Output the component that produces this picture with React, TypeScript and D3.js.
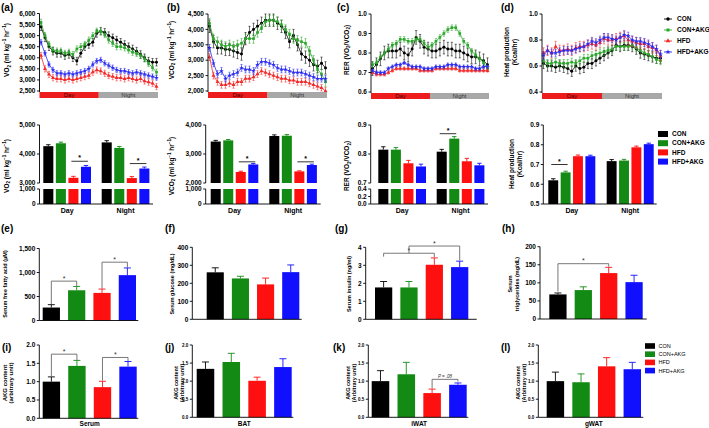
import React from "react";
import * as d3 from "d3";

const FONT = "'Liberation Sans', Arial, Helvetica, sans-serif";
const GROUP_NAMES = ["CON", "CON+AKG", "HFD", "HFD+AKG"];
const LINE_COLORS = ["#000000", "#2ba82b", "#f42a2a", "#2b2bf2"];
const BAR_COLORS = ["#000000", "#138a13", "#ff1010", "#1010ff"];
const PERIODS = ["Day", "Night"];

// ---------------------------------------------------------------------------
// (a)-(d) 24 h time courses
// ---------------------------------------------------------------------------
const VO2_CON = [5400, 4900, 4500, 4300, 4200, 4200, 4100, 4150, 4000, 3850, 4200, 4500, 4600, 4700, 5100, 5200, 5150, 5000, 4900, 4800, 4700, 4600, 4500, 4400, 4300, 4150, 4000, 3850, 3800, 3800];
const VO2_CONAKG = [5600, 5000, 4600, 4350, 4300, 4300, 4200, 4250, 4150, 4400, 4500, 4600, 4800, 5000, 5200, 5200, 5050, 4800, 4650, 4500, 4500, 4450, 4350, 4250, 4200, 4100, 3950, 3750, 3550, 3350];
const VO2_HFD = [4100, 3500, 3250, 3100, 3050, 3050, 3000, 3050, 3000, 3050, 3100, 3150, 3200, 3350, 3450, 3400, 3300, 3200, 3150, 3100, 3100, 3050, 3100, 3050, 3000, 3050, 2950, 2900, 2850, 2700];
const VO2_HFDAKG = [4700, 4200, 3700, 3450, 3300, 3300, 3250, 3300, 3250, 3300, 3350, 3400, 3500, 3700, 3850, 3900, 3750, 3650, 3550, 3450, 3400, 3400, 3350, 3300, 3350, 3300, 3250, 3200, 3150, 3100];
const VO2_SEM = [170, 140, 140, 120];

const VCO2_CON = [4100, 3600, 3400, 3400, 3350, 3350, 3300, 3250, 3200, 3700, 3900, 4000, 4100, 4200, 4300, 4300, 4300, 4200, 4100, 3900, 3600, 3800, 3500, 3200, 3100, 3000, 2850, 2800, 2900, 2750];
const VCO2_CONAKG = [4200, 3700, 3600, 3500, 3450, 3500, 3450, 3500, 3550, 3700, 3700, 3700, 3900, 4050, 4250, 4300, 4300, 4250, 4150, 4000, 3850, 3700, 3650, 3600, 3550, 3300, 3000, 2700, 2550, 2300];
const VCO2_HFD = [3100, 2500, 2300, 2200, 2200, 2250, 2200, 2300, 2300, 2400, 2400, 2450, 2550, 2650, 2600, 2550, 2500, 2450, 2400, 2400, 2350, 2350, 2300, 2300, 2300, 2250, 2200, 2150, 2100, 2000];
const VCO2_HFDAKG = [3400, 2900, 2550, 2650, 2400, 2500, 2550, 2600, 2750, 2700, 2700, 2650, 2850, 2950, 2950, 2900, 2850, 2750, 2700, 2700, 2650, 2600, 2600, 2600, 2550, 2500, 2450, 2400, 2400, 2400];
const VCO2_SEM = [200, 150, 110, 110];

const RER_CON = [0.72, 0.74, 0.77, 0.8, 0.81, 0.81, 0.81, 0.82, 0.8, 0.79, 0.82, 0.88, 0.86, 0.83, 0.82, 0.81, 0.81, 0.82, 0.83, 0.82, 0.82, 0.81, 0.81, 0.8, 0.79, 0.78, 0.78, 0.77, 0.76, 0.74];
const RER_CONAKG = [0.74, 0.75, 0.78, 0.8, 0.82, 0.84, 0.85, 0.87, 0.87, 0.86, 0.86, 0.87, 0.87, 0.85, 0.83, 0.84, 0.86, 0.88, 0.9, 0.92, 0.93, 0.93, 0.9, 0.86, 0.84, 0.81, 0.79, 0.77, 0.75, 0.72];
const RER_HFD = [0.7, 0.69, 0.69, 0.69, 0.7, 0.71, 0.72, 0.72, 0.72, 0.72, 0.72, 0.72, 0.71, 0.71, 0.71, 0.71, 0.72, 0.72, 0.72, 0.72, 0.72, 0.72, 0.71, 0.71, 0.71, 0.71, 0.71, 0.71, 0.71, 0.71];
const RER_HFDAKG = [0.71, 0.7, 0.7, 0.7, 0.72, 0.73, 0.74, 0.74, 0.75, 0.74, 0.73, 0.73, 0.73, 0.72, 0.72, 0.72, 0.73, 0.73, 0.73, 0.74, 0.74, 0.74, 0.73, 0.73, 0.73, 0.73, 0.72, 0.72, 0.73, 0.73];
const RER_SEM = [0.035, 0.014, 0.008, 0.008];

const HEAT_CON = [0.62, 0.6, 0.6, 0.59, 0.6, 0.59, 0.58, 0.56, 0.6, 0.58, 0.59, 0.62, 0.62, 0.64, 0.66, 0.68, 0.7, 0.72, 0.76, 0.75, 0.76, 0.76, 0.75, 0.73, 0.7, 0.69, 0.68, 0.67, 0.66, 0.66];
const HEAT_CONAKG = [0.64, 0.62, 0.62, 0.63, 0.62, 0.62, 0.62, 0.63, 0.62, 0.64, 0.66, 0.66, 0.68, 0.69, 0.7, 0.71, 0.72, 0.73, 0.75, 0.75, 0.75, 0.75, 0.76, 0.74, 0.72, 0.7, 0.69, 0.67, 0.65, 0.64];
const HEAT_HFD = [0.7, 0.72, 0.7, 0.75, 0.72, 0.72, 0.73, 0.72, 0.74, 0.75, 0.75, 0.76, 0.77, 0.76, 0.78, 0.81, 0.8, 0.8, 0.81, 0.82, 0.83, 0.8, 0.79, 0.78, 0.77, 0.77, 0.75, 0.74, 0.72, 0.68];
const HEAT_HFDAKG = [0.68, 0.72, 0.7, 0.7, 0.71, 0.72, 0.72, 0.72, 0.73, 0.74, 0.75, 0.77, 0.79, 0.78, 0.8, 0.82, 0.82, 0.81, 0.8, 0.82, 0.84, 0.83, 0.8, 0.79, 0.79, 0.78, 0.77, 0.75, 0.73, 0.69];
const HEAT_SEM = [0.04, 0.03, 0.04, 0.03];

// ---------------------------------------------------------------------------
// Day / Night averages (second row)
// ---------------------------------------------------------------------------
const VO2_DAY = [4270, 4370, 3180, 3560];
const VO2_NIGHT = [4400, 4210, 3170, 3500];
const VO2_DAY_SEM = [50, 40, 50, 45];
const VO2_NIGHT_SEM = [60, 50, 50, 50];

const VCO2_DAY = [3430, 3470, 2380, 2640];
const VCO2_NIGHT = [3620, 3630, 2400, 2620];
const VCO2_DAY_SEM = [40, 30, 25, 30];
const VCO2_NIGHT_SEM = [40, 40, 20, 30];

const RER_DAY = [0.815, 0.815, 0.768, 0.757];
const RER_NIGHT = [0.808, 0.853, 0.775, 0.761];
const RER_DAY_SEM = [0.01, 0.007, 0.01, 0.008];
const RER_NIGHT_SEM = [0.008, 0.007, 0.01, 0.007];

const HEAT_DAY = [0.62, 0.66, 0.742, 0.742];
const HEAT_NIGHT = [0.717, 0.72, 0.787, 0.803];
const HEAT_DAY_SEM = [0.008, 0.006, 0.006, 0.005];
const HEAT_NIGHT_SEM = [0.008, 0.006, 0.006, 0.005];

// ---------------------------------------------------------------------------
// Serum (third row) and AKG content (fourth row)
// ---------------------------------------------------------------------------
const FFA = [270, 630, 575, 945];
const FFA_SEM = [60, 80, 80, 150];
const GLUCOSE = [261, 227, 194, 262];
const GLUCOSE_SEM = [25, 12, 35, 40];
const INSULIN = [1.77, 1.77, 3.03, 2.9];
const INSULIN_SEM = [0.33, 0.33, 0.38, 0.33];
const TG = [68, 80, 127, 102];
const TG_SEM = [4, 9, 16, 19];

const AKG_SERUM = [1.0, 1.43, 0.85, 1.41];
const AKG_SERUM_SEM = [0.13, 0.15, 0.16, 0.14];
const AKG_BAT = [1.34, 1.53, 1.01, 1.39];
const AKG_BAT_SEM = [0.19, 0.24, 0.1, 0.23];
const AKG_IWAT = [1.0, 1.19, 0.67, 0.9];
const AKG_IWAT_SEM = [0.29, 0.33, 0.11, 0.05];
const AKG_GWAT = [1.0, 0.97, 1.41, 1.33];
const AKG_GWAT_SEM = [0.25, 0.23, 0.24, 0.19];

const SYMBOL_TYPES = [d3.symbolCircle, d3.symbolSquare, d3.symbolTriangle, d3.symbolStar];
const fmtK = d3.format(",");
const fmt1 = d3.format(".1f");
const fmtInt = d3.format("d");

// ---------------------------------------------------------------------------
// helpers
// ---------------------------------------------------------------------------

function YAxis({ x, y, ticks, fmt, size = 6.5, weight = "bold", y0, y1 }: any) {
  return (
    <g>
      <line x1={x} x2={x} y1={y0} y2={y1} stroke="#000" strokeWidth={0.9} />
      {ticks.map((t: number) => (
        <g key={t}>
          <line x1={x - 2.5} x2={x} y1={y(t)} y2={y(t)} stroke="#000" strokeWidth={0.9} />
          <text x={x - 4} y={y(t)} dy="0.35em" textAnchor="end" fontSize={size} fontWeight={weight}>
            {fmt(t)}
          </text>
        </g>
      ))}
    </g>
  );
}

function VText({ x, y, size = 6.5, children }: any) {
  return (
    <text transform={`translate(${x},${y}) rotate(-90)`} textAnchor="middle" dy="0.35em" fontSize={size} fontWeight="bold">
      {children}
    </text>
  );
}

// pieces: [text, shift] where shift is "sub", "sup" or none; the next piece undoes it
function Scripted({ x, y, size, pieces }: any) {
  let prev = 0;
  return (
    <VText x={x} y={y} size={size}>
      {pieces.map(([t, kind]: [string, string?], i: number) => {
        const off = kind === "sub" ? size * 0.25 : kind === "sup" ? -size * 0.4 : 0;
        const dy = off - prev;
        prev = off;
        return (
          <tspan key={i} dy={dy} fontSize={kind ? size * 0.7 : size}>
            {t}
          </tspan>
        );
      })}
    </VText>
  );
}

const VO2_PIECES = [["VO"], ["2", "sub"], [" (ml kg"], ["−1", "sup"], [" hr"], ["−1", "sup"], [")"]];
const VCO2_PIECES = [["VCO"], ["2", "sub"], [" (ml kg"], ["−1", "sup"], [" hr"], ["−1", "sup"], [")"]];
const RER_PIECES = [["RER (VO"], ["2", "sub"], ["/VCO"], ["2", "sub"], [")"]];

function PanelTag({ x, y, t }: any) {
  return (
    <text x={x} y={y} fontSize={10} fontWeight="bold">
      {t}
    </text>
  );
}

// ---------------------------------------------------------------------------
// time-course panel
// ---------------------------------------------------------------------------

function TimePanel({ left, right, top, bottom, domain, ticks, fmt, series, sems }: any) {
  const n = series[0].length;
  const x = d3.scaleLinear().domain([0, n - 1]).range([left + 1.5, right - 1.5]);
  const y = d3.scaleLinear().domain(domain).range([bottom, top]).clamp(true);
  const line = d3.line<number>().x((_, i) => x(i)).y((d) => y(d));
  const mid = (left + right) / 2;
  return (
    <g>
      {series.map((s: number[], k: number) => {
        const e = sems[k];
        const mark = d3.symbol().type(SYMBOL_TYPES[k]).size(7)()!;
        return (
          <g key={k} stroke={LINE_COLORS[k]} fill={LINE_COLORS[k]}>
            <path d={line(s)!} fill="none" strokeWidth={0.8} />
            {s.map((v, i) => (
              <g key={i} strokeWidth={0.55}>
                <line x1={x(i)} x2={x(i)} y1={y(v - e)} y2={y(v + e)} />
                <line x1={x(i) - 1.1} x2={x(i) + 1.1} y1={y(v + e)} y2={y(v + e)} />
                <line x1={x(i) - 1.1} x2={x(i) + 1.1} y1={y(v - e)} y2={y(v - e)} />
              </g>
            ))}
            {s.map((v, i) => (
              <path key={"m" + i} d={mark} transform={`translate(${x(i)},${y(v)})`} stroke="none" />
            ))}
          </g>
        );
      })}
      <YAxis x={left} y={y} ticks={ticks} fmt={fmt} y0={top} y1={bottom + 1} />
      <rect x={left} y={bottom + 1} width={mid - left} height={6} fill="#ee1d1d" />
      <rect x={mid} y={bottom + 1} width={right - mid} height={6} fill="#a8a8a8" />
      <text x={(left + mid) / 2} y={bottom + 4.2} dy="0.35em" textAnchor="middle" fontSize={6} fill="#4a0000">
        Day
      </text>
      <text x={(mid + right) / 2} y={bottom + 4.2} dy="0.35em" textAnchor="middle" fontSize={6} fill="#333">
        Night
      </text>
    </g>
  );
}

// ---------------------------------------------------------------------------
// day / night bar panel (optionally broken axis)
// ---------------------------------------------------------------------------

function PeriodBars({ axisX, axisEnd, groupStart, groupW, groupGap, values, sems, upper, upperTicks, lower, lowerTicks, fmt, sig }: any) {
  const base = 204;
  const top = 125;
  const gx = d3
    .scaleBand<string>()
    .domain(PERIODS)
    .range([groupStart, groupStart + 2 * groupW + groupGap])
    .paddingInner(groupGap / (groupW + groupGap));
  const sx = d3.scaleBand<string>().domain(GROUP_NAMES).range([0, gx.bandwidth()]).paddingInner(0.2);
  const yU = d3.scaleLinear().domain(upper).range([lower ? 183 : base, top]);
  const yL = lower ? d3.scaleLinear().domain(lower).range([base, 189]) : null;
  const bw = sx.bandwidth();
  return (
    <g>
      {PERIODS.map((p, pi) =>
        GROUP_NAMES.map((g, k) => {
          const v = values[pi][k];
          const e = sems[pi][k];
          const bx = gx(p)! + sx(g)!;
          const c = BAR_COLORS[k];
          return (
            <g key={p + g} fill={c} stroke={c}>
              <rect x={bx} y={yU(v)} width={bw} height={yU(upper[0]) - yU(v)} stroke="none" />
              {yL && <rect x={bx} y={yL(lower[1])} width={bw} height={base - yL(lower[1])} stroke="none" />}
              <line x1={bx + bw / 2} x2={bx + bw / 2} y1={yU(v)} y2={yU(v + e)} strokeWidth={0.9} />
              <line x1={bx + bw / 2 - 2.2} x2={bx + bw / 2 + 2.2} y1={yU(v + e)} y2={yU(v + e)} strokeWidth={0.9} />
            </g>
          );
        })
      )}
      <YAxis x={axisX} y={yU} ticks={upperTicks} fmt={fmt} y0={top} y1={lower ? 183 : base} />
      {yL && <YAxis x={axisX} y={yL} ticks={lowerTicks} fmt={fmt} y0={189} y1={base} />}
      <line x1={axisX} x2={axisEnd} y1={base} y2={base} stroke="#000" strokeWidth={0.9} />
      {PERIODS.map((p) => (
        <text key={p} x={gx(p)! + gx.bandwidth() / 2} y={213} textAnchor="middle" fontSize={7} fontWeight="bold">
          {p}
        </text>
      ))}
      {sig.map((s: any, i: number) => {
        const xa = gx(PERIODS[s.period])! + sx(GROUP_NAMES[s.a])! + bw / 2 - 2;
        const xb = gx(PERIODS[s.period])! + sx(GROUP_NAMES[s.b])! + bw / 2 + 2;
        return (
          <g key={i}>
            <line x1={xa} x2={xb} y1={yU(s.level)} y2={yU(s.level)} stroke="#000" strokeWidth={0.8} />
            <text x={(xa + xb) / 2} y={yU(s.level) - 1} textAnchor="middle" fontSize={7} fontWeight="bold">
              *
            </text>
          </g>
        );
      })}
    </g>
  );
}

// ---------------------------------------------------------------------------
// single-group bar panel
// ---------------------------------------------------------------------------

function SimpleBars({ axisX, axisEnd, barStart, barEnd, top, bottom, domain, ticks, fmt, tickSize = 6.5, values, sems, brackets = [], xLabel }: any) {
  const x = d3.scaleBand<string>().domain(GROUP_NAMES).range([barStart, barEnd]).paddingInner(0.32);
  const y = d3.scaleLinear().domain(domain).range([bottom, top]);
  const bw = x.bandwidth();
  const cx = (k: number) => x(GROUP_NAMES[k])! + bw / 2;
  return (
    <g>
      {GROUP_NAMES.map((g, k) => {
        const v = values[k];
        const e = sems[k];
        const c = BAR_COLORS[k];
        const bx = x(g)!;
        return (
          <g key={g} stroke={c}>
            <rect x={bx} y={y(v)} width={bw} height={bottom - y(v)} fill={c} stroke="none" />
            <line x1={bx + bw / 2} x2={bx + bw / 2} y1={y(v)} y2={y(v + e)} strokeWidth={0.9} />
            <line x1={bx + bw / 2 - 3.5} x2={bx + bw / 2 + 3.5} y1={y(v + e)} y2={y(v + e)} strokeWidth={0.9} />
          </g>
        );
      })}
      <YAxis x={axisX} y={y} ticks={ticks} fmt={fmt} size={tickSize} y0={top} y1={bottom} />
      <line x1={axisX} x2={axisEnd} y1={bottom} y2={bottom} stroke="#000" strokeWidth={0.9} />
      {brackets.map((b: any, i: number) => {
        const xa = cx(b.a);
        const xb = cx(b.b);
        return (
          <g key={i}>
            <path
              d={`M${xa},${y(b.legA)}V${y(b.level)}H${xb}V${y(b.legB)}`}
              fill="none"
              stroke="#555"
              strokeWidth={0.8}
            />
            <text
              x={(xa + xb) / 2}
              y={y(b.level) - (b.italic ? 1.5 : 0.5)}
              textAnchor="middle"
              fontSize={b.italic ? 4.5 : 7}
              fontStyle={b.italic ? "italic" : "normal"}
              fill="#333"
            >
              {b.label}
            </text>
          </g>
        );
      })}
      {xLabel && (
        <text x={(barStart + barEnd) / 2} y={426} textAnchor="middle" fontSize={6.5} fontWeight="bold">
          {xLabel}
        </text>
      )}
    </g>
  );
}

// ---------------------------------------------------------------------------
// App
// ---------------------------------------------------------------------------

export default function App() {
  return (
    <svg
      width={709}
      height={428}
      style={{ position: "absolute", left: 0, top: 0, background: "#fff" }}
      fontFamily={FONT}
    >
      {/* ---- row 1 ---- */}
      <PanelTag x={1} y={11} t="(a)" />
      <PanelTag x={167} y={11} t="(b)" />
      <PanelTag x={337} y={11} t="(c)" />
      <PanelTag x={501} y={11} t="(d)" />

      <Scripted x={9} y={50} size={6.5} pieces={VO2_PIECES} />
      <TimePanel left={39.5} right={158} top={13.5} bottom={91} domain={[2500, 6000]} ticks={d3.range(2500, 6001, 500)} fmt={fmtK}
        series={[VO2_CON, VO2_CONAKG, VO2_HFD, VO2_HFDAKG]} sems={VO2_SEM} />

      <Scripted x={173.5} y={50} size={6.5} pieces={VCO2_PIECES} />
      <TimePanel left={208} right={327} top={14} bottom={91} domain={[2000, 4500]} ticks={d3.range(2000, 4501, 500)} fmt={fmtK}
        series={[VCO2_CON, VCO2_CONAKG, VCO2_HFD, VCO2_HFDAKG]} sems={VCO2_SEM} />

      <Scripted x={348.5} y={50} size={6.5} pieces={RER_PIECES} />
      <TimePanel left={371} right={489} top={14} bottom={92} domain={[0.6, 1.0]} ticks={[0.6, 0.7, 0.8, 0.9, 1.0]} fmt={fmt1}
        series={[RER_CON, RER_CONAKG, RER_HFD, RER_HFDAKG]} sems={RER_SEM} />

      <VText x={507} y={52} size={6.5}>Heat production</VText>
      <VText x={514.5} y={52} size={6.5}>(Kcal/hr)</VText>
      <TimePanel left={542} right={662} top={14} bottom={92} domain={[0.4, 1.0]} ticks={[0.4, 0.6, 0.8, 1.0]} fmt={fmt1}
        series={[HEAT_CON, HEAT_CONAKG, HEAT_HFD, HEAT_HFDAKG]} sems={HEAT_SEM} />

      {GROUP_NAMES.map((g, k) => (
        <g key={g} transform={`translate(664,${19 + k * 11})`}>
          <line x1={0} x2={8} stroke={LINE_COLORS[k]} strokeWidth={0.9} />
          <path d={d3.symbol().type(SYMBOL_TYPES[k]).size(9)()!} transform="translate(4,0)" fill={LINE_COLORS[k]} />
          <text x={13} dy="0.35em" fontSize={6.5} fontWeight="bold">
            {g}
          </text>
        </g>
      ))}

      {/* ---- row 2 ---- */}
      <Scripted x={8.5} y={166} size={6.5} pieces={VO2_PIECES} />
      <PeriodBars axisX={39.5} axisEnd={153} groupStart={43.3} groupW={47.7} groupGap={10.7}
        values={[VO2_DAY, VO2_NIGHT]} sems={[VO2_DAY_SEM, VO2_NIGHT_SEM]}
        upper={[3000, 5000]} upperTicks={[3000, 4000, 5000]} lower={[0, 1000]} lowerTicks={[0, 1000]} fmt={fmtK}
        sig={[{ period: 0, a: 2, b: 3, level: 3750 }, { period: 1, a: 2, b: 3, level: 3670 }]} />

      <Scripted x={173.5} y={166} size={6.5} pieces={VCO2_PIECES} />
      <PeriodBars axisX={205.7} axisEnd={320.7} groupStart={210.7} groupW={47.6} groupGap={11}
        values={[VCO2_DAY, VCO2_NIGHT]} sems={[VCO2_DAY_SEM, VCO2_NIGHT_SEM]}
        upper={[2000, 4000]} upperTicks={[2000, 3000, 4000]} lower={[0, 1000]} lowerTicks={[0, 1000]} fmt={fmtK}
        sig={[{ period: 0, a: 2, b: 3, level: 2730 }, { period: 1, a: 2, b: 3, level: 2730 }]} />

      <Scripted x={349} y={166} size={6.5} pieces={RER_PIECES} />
      <PeriodBars axisX={370.7} axisEnd={488} groupStart={378.3} groupW={47.7} groupGap={10.7}
        values={[RER_DAY, RER_NIGHT]} sems={[RER_DAY_SEM, RER_NIGHT_SEM]}
        upper={[0.7, 0.9]} upperTicks={[0.7, 0.8, 0.9]} lower={[0, 0.4]} lowerTicks={[0, 0.2, 0.4]} fmt={fmt1}
        sig={[{ period: 1, a: 0, b: 1, level: 0.87 }]} />

      <VText x={512} y={164} size={6.5}>Heat production</VText>
      <VText x={519.5} y={164} size={6.5}>(Kcal/hr)</VText>
      <PeriodBars axisX={543.3} axisEnd={656.7} groupStart={548.3} groupW={47} groupGap={11.4}
        values={[HEAT_DAY, HEAT_NIGHT]} sems={[HEAT_DAY_SEM, HEAT_NIGHT_SEM]}
        upper={[0.5, 0.9]} upperTicks={[0.5, 0.6, 0.7, 0.8, 0.9]} fmt={fmt1}
        sig={[{ period: 0, a: 0, b: 1, level: 0.7 }]} />

      {GROUP_NAMES.map((g, k) => (
        <g key={g} transform={`translate(658,${134 + k * 9.2})`}>
          <rect x={0} y={-3} width={10} height={6} fill={BAR_COLORS[k]} />
          <text x={14} dy="0.35em" fontSize={6.5} fontWeight="bold">
            {g}
          </text>
        </g>
      ))}

      {/* ---- row 3 ---- */}
      <PanelTag x={1} y={232} t="(e)" />
      <PanelTag x={165} y={232} t="(f)" />
      <PanelTag x={335} y={232} t="(g)" />
      <PanelTag x={502} y={232} t="(h)" />

      <VText x={5.5} y={284} size={5.5}>Serum free fatty acid (μM)</VText>
      <SimpleBars axisX={39.3} axisEnd={138.3} barStart={42.7} barEnd={136} top={248.5} bottom={320.5}
        domain={[0, 1500]} ticks={[0, 500, 1000, 1500]} fmt={fmtK} values={FFA} sems={FFA_SEM}
        brackets={[
          { a: 0, b: 1, level: 820, legA: 340, legB: 720, label: "*" },
          { a: 2, b: 3, level: 1215, legA: 665, legB: 1100, label: "*" },
        ]} />

      <VText x={172} y={284} size={5.5}>Serum glucose (mg/dL)</VText>
      <SimpleBars axisX={192.3} axisEnd={301.7} barStart={206.7} barEnd={299.3} top={247.3} bottom={319.3}
        domain={[0, 400]} ticks={[0, 100, 200, 300, 400]} fmt={fmtInt} values={GLUCOSE} sems={GLUCOSE_SEM} />

      <VText x={349.5} y={284} size={5.5}>Serum insulin (ng/ml)</VText>
      <SimpleBars axisX={365.7} axisEnd={476.7} barStart={375} barEnd={468.3} top={247.3} bottom={319.3}
        domain={[0, 4]} ticks={[0, 1, 2, 3, 4]} fmt={fmtInt} values={INSULIN} sems={INSULIN_SEM}
        brackets={[
          { a: 0, b: 2, level: 3.67, legA: 3.48, legB: 3.45, label: "*" },
          { a: 1, b: 3, level: 4.07, legA: 3.67, legB: 3.28, label: "*" },
        ]} />

      <VText x={510.5} y={284} size={5.5}>Serum</VText>
      <VText x={517} y={284} size={5.5}>triglycerides (mg/dL)</VText>
      <SimpleBars axisX={540} axisEnd={646.7} barStart={549.3} barEnd={642.7} top={246.7} bottom={319}
        domain={[0, 200]} ticks={[0, 50, 100, 150, 200]} fmt={fmtInt} values={TG} sems={TG_SEM}
        brackets={[{ a: 0, b: 2, level: 153, legA: 76, legB: 145, label: "*" }]} />

      {/* ---- row 4 ---- */}
      <PanelTag x={2} y={351} t="(i)" />
      <PanelTag x={165} y={351} t="(j)" />
      <PanelTag x={333} y={351} t="(k)" />
      <PanelTag x={501} y={351} t="(l)" />

      <VText x={4.5} y={383} size={6}>AKG content</VText>
      <VText x={11} y={383} size={6}>(arbitrary unit)</VText>
      <SimpleBars axisX={39.3} axisEnd={138.3} barStart={42.7} barEnd={136.7} top={345} bottom={418.3}
        domain={[0, 2]} ticks={[0, 0.5, 1, 1.5, 2]} fmt={fmt1} values={AKG_SERUM} sems={AKG_SERUM_SEM} xLabel="Serum"
        brackets={[
          { a: 0, b: 1, level: 1.75, legA: 1.15, legB: 1.59, label: "*" },
          { a: 2, b: 3, level: 1.66, legA: 1.03, legB: 1.56, label: "*" },
        ]} />

      <VText x={176.5} y={383} size={5.5}>AKG content</VText>
      <VText x={182.5} y={383} size={5.5}>(Arbitrary unit)</VText>
      <SimpleBars axisX={192.3} axisEnd={293.3} barStart={196.7} barEnd={291.7} top={345} bottom={417.3}
        domain={[0, 2]} ticks={[0, 0.5, 1, 1.5, 2]} fmt={fmt1} tickSize={4.5} values={AKG_BAT} sems={AKG_BAT_SEM} xLabel="BAT" />

      <VText x={348} y={383} size={5.5}>AKG content</VText>
      <VText x={354.5} y={383} size={5.5}>(Arbitrary unit)</VText>
      <SimpleBars axisX={368.3} axisEnd={468.3} barStart={371.7} barEnd={466.7} top={345} bottom={417.3}
        domain={[0, 2]} ticks={[0, 0.5, 1, 1.5, 2]} fmt={fmt1} tickSize={4.5} values={AKG_IWAT} sems={AKG_IWAT_SEM} xLabel="iWAT"
        brackets={[{ a: 2, b: 3, level: 1.05, legA: 0.8, legB: 0.99, label: "P = .08", italic: true }]} />

      <VText x={518} y={383} size={5.5}>AKG content</VText>
      <VText x={524.5} y={383} size={5.5}>(Arbitrary unit)</VText>
      <SimpleBars axisX={538.3} axisEnd={643.3} barStart={546.7} barEnd={641} top={345} bottom={417.3}
        domain={[0, 2]} ticks={[0, 0.5, 1, 1.5, 2]} fmt={fmt1} tickSize={4.5} values={AKG_GWAT} sems={AKG_GWAT_SEM} xLabel="gWAT" />

      {GROUP_NAMES.map((g, k) => (
        <g key={g} transform={`translate(645,${346 + k * 8.2})`}>
          <rect x={0} y={-2.8} width={10} height={5.6} fill={BAR_COLORS[k]} />
          <text x={13.5} dy="0.35em" fontSize={5.5}>
            {g}
          </text>
        </g>
      ))}
    </svg>
  );
}
